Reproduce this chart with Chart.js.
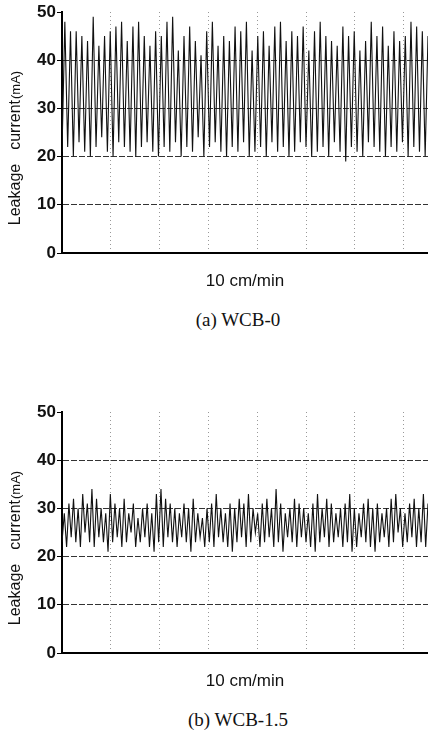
<!DOCTYPE html>
<html>
<head>
<meta charset="utf-8">
<script src="https://cdn.jsdelivr.net/npm/chart.js@4.4.0/dist/chart.umd.min.js"></script>
<style>
body { margin: 0; background: #fff; width: 428px; height: 738px; position: relative; overflow: hidden; }
.box { position: absolute; left: 0; width: 428px; height: 300px; }
.cap { position: absolute; left: 0; width: 476px; text-align: center; line-height: 20px;
       font-family: "Liberation Serif", "Times New Roman", serif; font-size: 19px; color: #111; }
</style>
</head>
<body>
<div class="box" style="top:0"><canvas id="chartA" width="428" height="300"></canvas></div>
<div class="cap" style="top:310px">(a) WCB-0</div>
<div class="box" style="top:400px"><canvas id="chartB" width="428" height="300"></canvas></div>
<div class="cap" style="top:710px">(b) WCB-1.5</div>
<script>
'use strict'
const xTitle = '10 cm/min';
const yTitleParts = ['Leakage', 'current', '(mA)'];
const yMin = 0;
const yMax = 50;
const xMax = 7.5;

// WCB-0 : peaks and troughs of each swing (mA)
const highA = [48, 46, 46, 45, 44, 49, 43, 45, 46, 47, 48, 44, 47, 48, 45, 43, 46, 45, 48, 49, 42, 45,
    47, 44, 41, 46, 48, 43, 45, 44, 47, 46, 48, 42, 45, 46, 43, 47, 48, 44, 46, 45, 47, 42, 46, 48, 45,
    44, 43, 47, 45, 46, 42, 44, 48, 45, 47, 43, 46, 44, 45, 48, 47, 46, 45];
const lowA = [21, 22, 20, 23, 21, 20, 22, 24, 21, 20, 23, 22, 21, 20, 22, 23, 21, 20, 22, 21, 23, 20,
    22, 21, 24, 20, 22, 23, 21, 20, 22, 21, 23, 20, 21, 22, 20, 23, 21, 22, 20, 21, 23, 22, 20, 21, 22,
    20, 23, 21, 19, 22, 21, 20, 23, 22, 21, 20, 22, 21, 23, 20, 22, 21, 20];

// WCB-1.5
const highB = [29, 31, 32, 30, 33, 31, 34, 32, 30, 29, 33, 31, 30, 32, 29, 31, 28, 30, 31, 29, 33, 34,
    32, 31, 30, 29, 31, 30, 32, 29, 28, 30, 31, 33, 30, 29, 31, 30, 32, 31, 33, 30, 29, 31, 32, 30, 34,
    31, 29, 30, 32, 31, 30, 29, 31, 33, 30, 32, 31, 29, 30, 31, 33, 30, 29, 31, 32, 30, 31, 29, 30, 32,
    33, 30, 29, 31, 32, 30, 33, 31];
const lowB = [23, 22, 24, 23, 22, 25, 23, 22, 24, 23, 21, 23, 24, 22, 23, 25, 22, 23, 24, 22, 21, 23,
    22, 24, 23, 22, 24, 23, 21, 23, 24, 22, 23, 22, 24, 23, 22, 21, 23, 24, 22, 23, 25, 22, 23, 24, 22,
    23, 21, 24, 23, 22, 24, 23, 22, 21, 23, 24, 22, 23, 24, 22, 23, 21, 22, 24, 23, 22, 21, 23, 24, 22,
    23, 25, 22, 23, 24, 22, 23, 22];

function toPoints(lows, highs) {
    let pts = [];
    let n = lows.length * 2;
    for (let i = 0; i < lows.length; i++) {
        pts.push({ x: xMax * (2 * i) / (n - 1), y: lows[i] });
        pts.push({ x: xMax * (2 * i + 1) / (n - 1), y: highs[i] });
    }
    return pts;
}

// rotated y title with the smaller unit, like the scanned figure
const yTitlePlugin = {
    id: 'yTitle',
    afterDraw(chart) {
        let ctx = chart.ctx;
        let fonts = ['16px "Liberation Sans", Arial', '16px "Liberation Sans", Arial', '13px "Liberation Sans", Arial'];
        let gaps = [14, 1, 0];
        let total = 0;
        ctx.save();
        for (let i = 0; i < yTitleParts.length; i++) {
            ctx.font = fonts[i];
            total += ctx.measureText(yTitleParts[i]).width + gaps[i];
        }
        ctx.translate(16, 148);
        ctx.rotate(-Math.PI / 2);
        ctx.fillStyle = '#111';
        ctx.textBaseline = 'middle';
        let pos = -total / 2;
        for (let i = 0; i < yTitleParts.length; i++) {
            ctx.font = fonts[i];
            ctx.fillText(yTitleParts[i], pos, 0);
            pos += ctx.measureText(yTitleParts[i]).width + gaps[i];
        }
        ctx.restore();
    }
};

function makeChart(id, points) {
    let ctx = document.getElementById(id);
    return new Chart(ctx, {
        type: 'line',
        data: {
            datasets: [{
                data: points,
                borderColor: '#111',
                borderWidth: 1.1,
                pointRadius: 0,
                tension: 0
            }]
        },
        plugins: [yTitlePlugin],
        options: {
            responsive: false,
            animation: false,
            layout: { padding: { top: 12, left: 0, right: 0, bottom: 0 } },
            plugins: { legend: { display: false }, tooltip: { enabled: false } },
            scales: {
                x: {
                    type: 'linear',
                    min: 0,
                    max: xMax,
                    ticks: { display: false, stepSize: 1, includeBounds: false },
                    grid: { color: '#999', lineWidth: 1, drawTicks: false },
                    border: { color: '#000', width: 2, dash: [1, 3] },
                    title: {
                        display: true,
                        text: xTitle,
                        color: '#111',
                        font: { family: '"Liberation Sans", Arial', size: 17 },
                        padding: { top: 0, bottom: 8 }
                    },
                    afterFit: (s) => { s.height = 47; }
                },
                y: {
                    min: yMin,
                    max: yMax,
                    ticks: {
                        stepSize: 5,
                        autoSkip: false,
                        padding: 1,
                        color: '#111',
                        font: { family: '"Liberation Sans", Arial', size: 17, weight: 'bold' },
                        callback: (v) => (v % 10 === 0 ? v : '')
                    },
                    grid: {
                        lineWidth: 1,
                        tickLength: 5,
                        color: (c) => (c.tick && c.tick.value % 10 === 0 && c.tick.value > 0 && c.tick.value < 50 ? '#333' : 'rgba(0,0,0,0)'),
                        tickColor: (c) => (c.tick && c.tick.value % 10 === 0 ? '#000' : 'rgba(0,0,0,0)')
                    },
                    border: { color: '#000', width: 2, dash: [6, 2] },
                    afterFit: (s) => { s.width = 62; }
                }
            }
        }
    });
}

makeChart('chartA', toPoints(lowA, highA));
makeChart('chartB', toPoints(lowB, highB));
</script>
</body>
</html>
